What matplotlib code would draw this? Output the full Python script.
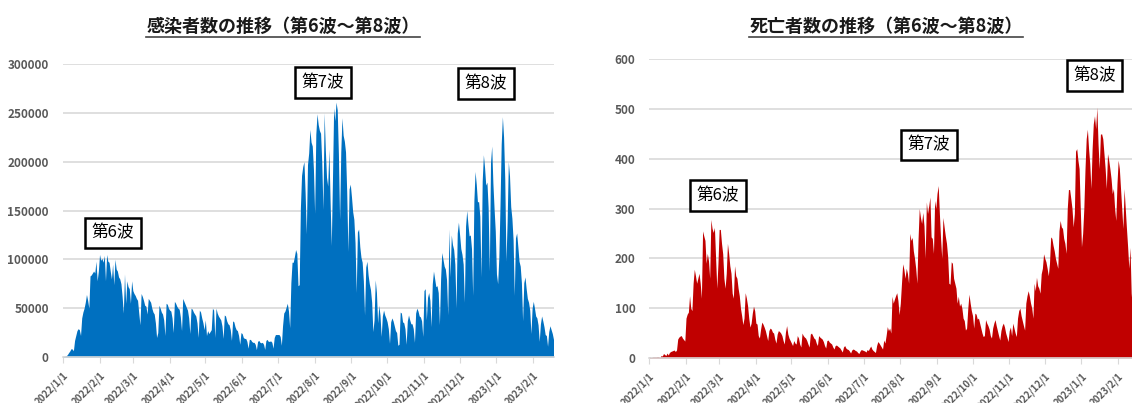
import matplotlib
matplotlib.use("Agg")
import matplotlib.pyplot as plt
from matplotlib.lines import Line2D
import numpy as np
import pandas as pd

plt.rcParams['font.family'] = ['Noto Sans CJK JP', 'DejaVu Sans']

# 感染者数（千人）
cases_2022_01 = [0.5, 0.5, 0.8, 1.2, 2.6, 4.5, 6.2, 8.5, 8.2, 6.4, 17, 22, 27, 29, 28, 22, 40, 46, 50, 56,
                 64, 58, 50, 83, 84, 86, 88, 86, 98, 78, 88]
cases_2022_02 = [105, 99, 101, 97, 104, 78, 105, 98, 97, 88, 80, 95, 74, 100, 90, 88, 82, 80, 75, 62,
                 45, 85, 55, 78, 72, 70, 55, 78]
cases_2022_03 = [68, 65, 63, 60, 58, 45, 33, 65, 62, 58, 53, 52, 44, 60, 58, 56, 50, 46, 44, 35,
                 20, 25, 53, 50, 46, 44, 38, 22, 55, 54, 50]
cases_2022_04 = [48, 47, 40, 25, 57, 55, 52, 50, 49, 41, 27, 60, 57, 54, 51, 48, 40, 24, 50, 49,
                 46, 44, 42, 35, 20, 48, 46, 40, 35, 28]
cases_2022_05 = [38, 22, 27, 24, 26, 28, 50, 48, 20, 50, 45, 42, 40, 38, 32, 19, 43, 42, 37, 34,
                 33, 28, 17, 37, 36, 31, 28, 27, 22, 13, 25]
cases_2022_06 = [24, 20, 19, 19, 16, 9, 18, 18, 16, 15, 15, 13, 7.5, 16, 17, 15, 14.5, 15, 13, 7.8,
                 17, 18, 16, 16, 16.5, 15, 9, 20, 23, 23]
cases_2022_07 = [23, 23, 21, 12, 32, 45, 47, 51, 55, 47, 30, 76, 97, 97, 103, 110, 106, 73, 74, 152,
                 186, 195, 200, 168, 126, 197, 209, 233, 220, 216, 192]
cases_2022_08 = [147, 228, 249, 238, 232, 229, 199, 151, 250, 212, 184, 175, 213, 160, 114, 181, 255, 242, 261, 253,
                 208, 141, 210, 245, 227, 221, 210, 169, 108, 172, 177]
cases_2022_09 = [164, 149, 141, 117, 66, 128, 131, 113, 102, 97, 78, 43, 92, 98, 84, 75, 69, 56, 26, 38,
                 79, 66, 35, 53, 43, 21, 42, 48, 43, 40]
cases_2022_10 = [36, 29, 14, 36, 40, 37, 32, 27, 25, 12, 13, 46, 45, 36, 35, 29, 13, 37, 43, 38,
                 34, 34, 29, 15, 45, 50, 47, 42, 41, 37, 21]
cases_2022_11 = [68, 70, 38, 61, 66, 58, 31, 75, 88, 80, 72, 73, 66, 33, 80, 107, 100, 93, 90, 79,
                 43, 131, 82, 125, 115, 110, 95, 50, 127, 138]
cases_2022_12 = [125, 111, 105, 95, 56, 134, 150, 136, 124, 125, 111, 63, 160, 190, 177, 159, 159, 144, 82, 180,
                 207, 194, 176, 179, 153, 88, 199, 216, 178, 152, 129]
cases_2023_01 = [85, 75, 102, 156, 218, 246, 225, 182, 98, 139, 200, 185, 154, 142, 120, 63, 122, 127, 113, 98,
                 93, 76, 37, 76, 82, 70, 60, 56, 48, 24, 50]
cases_2023_02 = [57, 50, 42, 40, 33, 16, 34, 42, 37, 31, 23, 22, 11, 26, 32, 28, 24, 18]

# 死亡者数（人）
deaths_2022_01 = [2, 1, 1, 2, 2, 2, 2, 3, 2, 1, 5, 4, 9, 7, 5, 10, 6, 11, 13, 14,
                  15, 16, 13, 16, 38, 42, 44, 45, 40, 37, 34]
deaths_2022_02 = [80, 88, 92, 125, 100, 95, 150, 178, 165, 150, 160, 170, 150, 120, 255, 245, 236, 190, 210, 195,
                  160, 278, 260, 252, 262, 200, 140, 190]
deaths_2022_03 = [258, 258, 230, 209, 160, 140, 170, 230, 210, 185, 170, 130, 120, 185, 165, 160, 140, 125, 100, 85,
                  67, 80, 131, 120, 105, 80, 62, 70, 90, 104, 95]
deaths_2022_04 = [70, 68, 45, 40, 58, 72, 68, 62, 55, 45, 35, 55, 60, 58, 52, 50, 38, 30, 48, 55,
                  53, 50, 45, 35, 28, 52, 65, 48, 40, 35]
deaths_2022_05 = [30, 25, 35, 30, 28, 45, 40, 28, 22, 50, 45, 42, 40, 35, 28, 22, 48, 50, 45, 40,
                  38, 30, 25, 45, 42, 40, 38, 33, 25, 20, 35]
deaths_2022_06 = [36, 32, 30, 28, 22, 18, 25, 26, 24, 22, 20, 16, 12, 22, 25, 20, 18, 17, 14, 10,
                  16, 18, 17, 15, 14, 11, 9, 14, 17, 16]
deaths_2022_07 = [15, 14, 12, 17, 15, 20, 24, 18, 15, 13, 11, 25, 33, 30, 26, 22, 18, 36, 30, 45,
                  63, 55, 60, 50, 124, 110, 118, 125, 131, 115, 87]
deaths_2022_08 = [110, 150, 189, 178, 160, 180, 170, 150, 250, 236, 242, 215, 200, 180, 150, 240, 300, 282, 270, 292,
                  265, 200, 313, 290, 305, 323, 243, 240, 210, 316, 300]
deaths_2022_09 = [330, 346, 290, 240, 200, 282, 263, 245, 230, 203, 150, 148, 193, 190, 160, 150, 140, 110, 124, 104,
                  110, 100, 80, 75, 56, 60, 100, 128, 110, 95]
deaths_2022_10 = [85, 60, 90, 88, 78, 80, 70, 60, 50, 43, 45, 77, 70, 65, 58, 45, 40, 60, 70, 77,
                  65, 55, 45, 36, 55, 65, 70, 62, 50, 42, 33]
deaths_2022_11 = [55, 62, 45, 70, 60, 50, 43, 80, 95, 100, 85, 75, 65, 56, 110, 125, 135, 124, 110, 100,
                  80, 150, 135, 162, 145, 140, 130, 169, 180, 209]
deaths_2022_12 = [200, 193, 180, 165, 190, 243, 240, 226, 215, 200, 190, 180, 255, 276, 263, 260, 240, 230, 210, 300,
                  338, 338, 320, 300, 263, 290, 415, 420, 397, 380, 300]
deaths_2023_01 = [223, 250, 300, 380, 440, 459, 420, 390, 340, 420, 470, 486, 460, 503, 430, 380, 449, 450, 440, 410,
                  380, 340, 410, 397, 380, 360, 330, 340, 300, 276, 350]
deaths_2023_02 = [397, 380, 340, 300, 260, 340, 300, 260, 223, 180, 222, 130, 100, 180, 170, 140, 120, 110]

cases = np.array(cases_2022_01 + cases_2022_02 + cases_2022_03 + cases_2022_04 + cases_2022_05
                 + cases_2022_06 + cases_2022_07 + cases_2022_08 + cases_2022_09 + cases_2022_10
                 + cases_2022_11 + cases_2022_12 + cases_2023_01 + cases_2023_02) * 1000
deaths = np.array(deaths_2022_01 + deaths_2022_02 + deaths_2022_03 + deaths_2022_04 + deaths_2022_05
                  + deaths_2022_06 + deaths_2022_07 + deaths_2022_08 + deaths_2022_09 + deaths_2022_10
                  + deaths_2022_11 + deaths_2022_12 + deaths_2023_01 + deaths_2023_02)
dates = pd.date_range('2022-01-01', periods=len(cases), freq='D')

month_ticks = pd.date_range('2022-01-01', '2023-02-01', freq='MS')
month_labels = [f"{d.year}/{d.month}/{d.day}" for d in month_ticks]

titles = ["感染者数の推移（第6波～第8波）", "死亡者数の推移（第6波～第8波）"]
wave_labels = ["第6波", "第7波", "第8波"]
wave_pos_cases = [("2022-02-12", 127000), ("2022-08-08", 281000), ("2022-12-23", 280000)]
wave_pos_deaths = [("2022-02-28", 326), ("2022-08-25", 427), ("2023-01-12", 567)]

grey = '#595959'
grid = '#d9d9d9'

fig = plt.figure(figsize=(11.32, 4.03), dpi=100)
ax1 = fig.add_axes([62.7 / 1132, 46 / 403, 490.8 / 1132, 293 / 403])
ax2 = fig.add_axes([649.3 / 1132, 45 / 403, 489 / 1132, 299 / 403])


def style(ax, ymax, ystep):
    ax.set_xlim(pd.Timestamp('2022-01-01'), pd.Timestamp('2023-02-18'))
    ax.set_ylim(0, ymax)
    ax.set_yticks(np.arange(0, ymax + 1, ystep))
    ax.yaxis.grid(True, color=grid, lw=1.2)
    ax.set_axisbelow(True)
    for s in ['top', 'right', 'left']:
        ax.spines[s].set_visible(False)
    ax.spines['bottom'].set_color(grid)
    ax.spines['bottom'].set_linewidth(1.2)
    ax.set_xticks(month_ticks)
    ax.set_xticklabels(month_labels, rotation=45, ha='right', rotation_mode='anchor')
    ax.tick_params(axis='x', length=4, color=grid, labelsize=7, labelcolor=grey, pad=5)
    ax.tick_params(axis='y', length=0, labelsize=8.5, labelcolor=grey, pad=10)
    for lab in ax.get_xticklabels() + ax.get_yticklabels():
        lab.set_fontweight('bold')


ax1.fill_between(dates, cases, color='#0070C0', lw=0)
style(ax1, 300000, 50000)
ax2.fill_between(dates, deaths, color='#C00000', lw=0)
style(ax2, 600, 100)

for ax, pos in [(ax1, wave_pos_cases), (ax2, wave_pos_deaths)]:
    for lab, (d, v) in zip(wave_labels, pos):
        ax.text(pd.Timestamp(d), v, lab, ha='center', va='center', fontsize=12, zorder=5,
                bbox=dict(boxstyle='square,pad=0.4', fc='white', ec='black', lw=1.8))

# タイトル（下線付き）
title_objs = [fig.text(283 / 1132, 1 - 26 / 403, titles[0], ha='center', va='center',
                       fontsize=13, fontweight='bold', color='#1a1a1a'),
              fig.text(886 / 1132, 1 - 26 / 403, titles[1], ha='center', va='center',
                       fontsize=13, fontweight='bold', color='#1a1a1a')]
fig.canvas.draw()
r = fig.canvas.get_renderer()
for t in title_objs:
    bb = t.get_window_extent(r).transformed(fig.transFigure.inverted())
    fig.add_artist(Line2D([bb.x0, bb.x1], [bb.y0 - 0.004, bb.y0 - 0.004],
                          transform=fig.transFigure, color='#444444', lw=1.2))

fig.savefig('out.png', dpi=100)
